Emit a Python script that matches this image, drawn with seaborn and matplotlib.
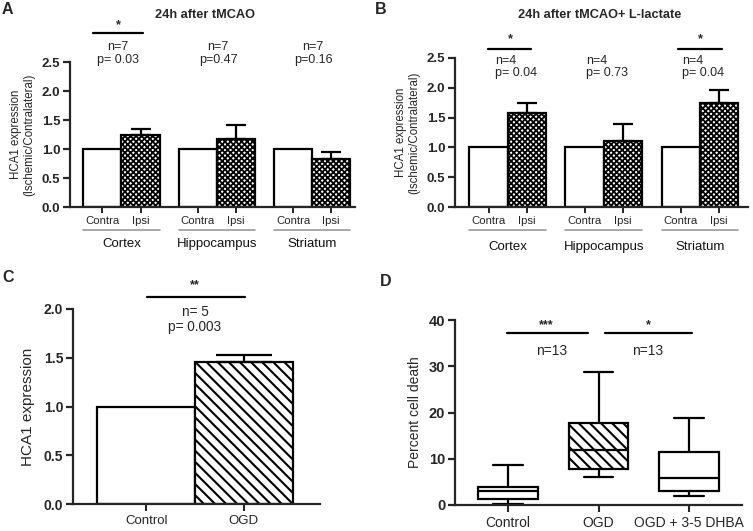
import numpy as np
import pandas as pd
import matplotlib
matplotlib.use("Agg")
import matplotlib.pyplot as plt
import seaborn as sns
from matplotlib.lines import Line2D
from matplotlib.ticker import FormatStrFormatter

# ---------------- data ----------------
regions = ["Cortex", "Hippocampus", "Striatum"]
sides = ["Contra", "Ipsi"]

a_contra = [1.0, 1.0, 1.0]
a_ipsi = [1.25, 1.18, 0.82]
a_ipsi_err = [0.09, 0.24, 0.12]
a_n = ["n=7", "n=7", "n=7"]
a_p = ["p= 0.03", "p=0.47", "p=0.16"]

b_contra = [1.0, 1.0, 1.0]
b_ipsi = [1.58, 1.11, 1.75]
b_ipsi_err = [0.16, 0.28, 0.22]
b_n = ["n=4", "n=4", "n=4"]
b_p = ["p= 0.04", "p= 0.73", "p= 0.04"]

c_groups = ["Control", "OGD"]
c_vals = [1.0, 1.46]
c_err = [0.0, 0.07]

d_groups = ["Control", "OGD", "OGD + 3-5 DHBA"]
d_min = [0.3, 6.0, 2.0]
d_q1 = [1.3, 7.8, 3.0]
d_med = [3.0, 12.0, 5.8]
d_q3 = [4.0, 17.8, 11.4]
d_max = [8.7, 28.7, 18.8]

# ---------------- style ----------------
sns.set_style("ticks")
plt.rcParams["font.family"] = ["Liberation Sans", "DejaVu Sans"]
plt.rcParams["axes.linewidth"] = 1.6

W, H = 753, 531
fig = plt.figure(figsize=(W / 100, H / 100), dpi=100)
TXT = "#262626"


def fx(x):
    return x / W


def fy(y):
    return 1 - y / H


def ftext(x, y, s, **kw):
    kw.setdefault("ha", "center")
    kw.setdefault("va", "center")
    fig.text(fx(x), fy(y), s, **kw)


def fline(x0, x1, y, lw=1.6, color="black"):
    fig.add_artist(Line2D([fx(x0), fx(x1)], [fy(y), fy(y)], color=color, lw=lw,
                          transform=fig.transFigure))


def axes_px(left, top, right, bottom):
    return fig.add_axes([fx(left), fy(bottom), (right - left) / W, (bottom - top) / H])


def bar_panel(ax, contra, ipsi, err, xlim, ul_y, gl_y):
    df = pd.DataFrame({
        "region": regions * 2,
        "side": ["Contra"] * 3 + ["Ipsi"] * 3,
        "value": list(contra) + list(ipsi),
    })
    plt.rcParams["hatch.linewidth"] = 1.3
    sns.barplot(data=df, x="region", y="value", hue="side", order=regions,
                hue_order=sides, width=0.8, errorbar=None, legend=False, ax=ax,
                palette=["white", "white"], saturation=1)
    for i, cont in enumerate(ax.containers):
        for bar in cont:
            bar.set_edgecolor("black")
            bar.set_linewidth(1.6)
            bar.set_facecolor("white")
            if i == 1:
                bar.set_hatch("xxxxxx")
    for bar, e in zip(ax.containers[1], err):
        xc = bar.get_x() + bar.get_width() / 2
        ax.errorbar([xc], [bar.get_height()], yerr=[[0], [e]], color="black",
                    lw=1.6, capsize=7.5, capthick=1.6, zorder=5)
    ax.set_ylim(0, 2.5)
    ax.set_yticks([0, 0.5, 1.0, 1.5, 2.0, 2.5])
    ax.yaxis.set_major_formatter(FormatStrFormatter("%.1f"))
    ax.set_xlim(*xlim)
    ticks = []
    for g in range(3):
        ticks += [g - 0.2, g + 0.2]
    ax.set_xticks(ticks)
    ax.set_xticklabels(sides * 3, fontsize=8.2, color=TXT)
    ax.tick_params(axis="x", length=4, width=1.4, pad=2.5)
    ax.tick_params(axis="y", length=5, width=1.6, pad=2, labelsize=9.5)
    for lab in ax.get_yticklabels():
        lab.set_fontweight("bold")
    ax.set_xlabel("")
    ax.set_ylabel("HCA1 expression\n(Ischemic/Contralateral)", fontsize=8.3,
                  labelpad=5, linespacing=1.1, color=TXT)
    tr = ax.get_xaxis_transform()
    for g, name in enumerate(regions):
        ax.plot([g - 0.4, g + 0.4], [ul_y, ul_y], color="#9a9a9a", lw=1.2,
                transform=tr, clip_on=False)
        ax.text(g, gl_y, name, transform=tr, ha="center", va="center",
                fontsize=9.5, color="#111")
    sns.despine(ax=ax)


# ---------------- Panel A ----------------
axA = axes_px(70, 62, 355, 207)
bar_panel(axA, a_contra, a_ipsi, a_ipsi_err, (-0.54, 2.45), -0.159, -0.252)
ftext(7, 9, "A", fontsize=11.5, fontweight="bold")
ftext(205, 15, "24h after tMCAO", fontsize=9.2, fontweight="bold")
fline(93, 143, 33)
ftext(118, 25, "*", fontsize=9, fontweight="bold")
for xc, n, p in zip([118, 218, 313], a_n, a_p):
    ftext(xc, 47, n, fontsize=9, color=TXT)
    ftext(xc, 60, p, fontsize=9, color=TXT)

# ---------------- Panel B ----------------
axB = axes_px(455, 58, 748, 207)
bar_panel(axB, b_contra, b_ipsi, b_ipsi_err, (-0.55, 2.5), -0.154, -0.268)
ftext(381, 9, "B", fontsize=11.5, fontweight="bold")
ftext(600, 15, "24h after tMCAO+ L-lactate", fontsize=9.2, fontweight="bold")
fline(488, 531, 49)
ftext(510, 39, "*", fontsize=9, fontweight="bold")
fline(678, 722, 49)
ftext(700, 39, "*", fontsize=9, fontweight="bold")
for xl, n, p in zip([495, 586, 682], b_n, b_p):
    ftext(xl, 61, n, fontsize=9, color=TXT, ha="left")
    ftext(xl, 73, p, fontsize=9, color=TXT, ha="left")

# ---------------- Panel C ----------------
axC = axes_px(73, 309, 320, 504)
plt.rcParams["hatch.linewidth"] = 1.5
sns.barplot(x=c_groups, y=c_vals, width=1.0, errorbar=None, ax=axC,
            color="white", saturation=1)
for i, bar in enumerate(axC.patches):
    bar.set_facecolor("white")
    bar.set_edgecolor("black")
    bar.set_linewidth(1.6)
    if i == 1:
        bar.set_hatch("\\\\\\")
for bar, e in zip(axC.patches, c_err):
    if e > 0:
        xc = bar.get_x() + bar.get_width() / 2
        axC.errorbar([xc], [bar.get_height()], yerr=[[0], [e]], color="black",
                     lw=1.6, capsize=20, capthick=1.6, zorder=5)
axC.set_ylim(0, 2.0)
axC.set_yticks([0, 0.5, 1.0, 1.5, 2.0])
axC.yaxis.set_major_formatter(FormatStrFormatter("%.1f"))
axC.set_xlim(-0.75, 1.78)
axC.tick_params(axis="x", length=5, width=1.5, labelsize=9.5, pad=3,
                labelcolor=TXT)
axC.tick_params(axis="y", length=5, width=1.6, labelsize=10, pad=2)
for lab in axC.get_yticklabels():
    lab.set_fontweight("bold")
axC.set_ylabel("HCA1 expression", fontsize=11, labelpad=6, color=TXT)
sns.despine(ax=axC)
ftext(8, 278, "C", fontsize=11.5, fontweight="bold")
ftext(195, 285, "**", fontsize=9, fontweight="bold")
fline(147, 245, 297)
ftext(195, 312, "n= 5", fontsize=9.8, color=TXT)
ftext(195, 327, "p= 0.003", fontsize=9.8, color=TXT)

# ---------------- Panel D ----------------
axD = axes_px(455, 320, 742, 505)
d_rows = []
for g, a, b, c, d, e in zip(d_groups, d_min, d_q1, d_med, d_q3, d_max):
    for v in (a, b, c, d, e):
        d_rows.append({"group": g, "value": v})
dfD = pd.DataFrame(d_rows)
sns.boxplot(data=dfD, x="group", y="value", order=d_groups, whis=(0, 100),
            width=0.66, color="white", linecolor="black", linewidth=1.6,
            saturation=1, showfliers=False, ax=axD)
for i, p in enumerate(axD.patches):
    p.set_facecolor("white")
    p.set_edgecolor("black")
    if i == 1:
        p.set_hatch("\\\\\\")
axD.set_ylim(0, 40)
axD.set_yticks([0, 10, 20, 30, 40])
axD.set_xlim(-0.59, 2.59)
axD.set_xlabel("")
axD.set_ylabel("Percent cell death", fontsize=10, labelpad=5, color=TXT)
axD.tick_params(axis="x", length=5, width=1.5, labelsize=10, pad=3,
                labelcolor=TXT)
axD.tick_params(axis="y", length=5, width=1.6, labelsize=10.5, pad=2)
for lab in axD.get_yticklabels():
    lab.set_fontweight("bold")
sns.despine(ax=axD)
ftext(386, 282, "D", fontsize=11.5, fontweight="bold")
fline(507, 588, 333)
ftext(546, 325, "***", fontsize=9, fontweight="bold")
fline(605, 692, 333)
ftext(648, 325, "*", fontsize=9, fontweight="bold")
ftext(552, 351, "n=13", fontsize=10, color=TXT)
ftext(648, 351, "n=13", fontsize=10, color=TXT)

fig.savefig("out.png", dpi=100)
